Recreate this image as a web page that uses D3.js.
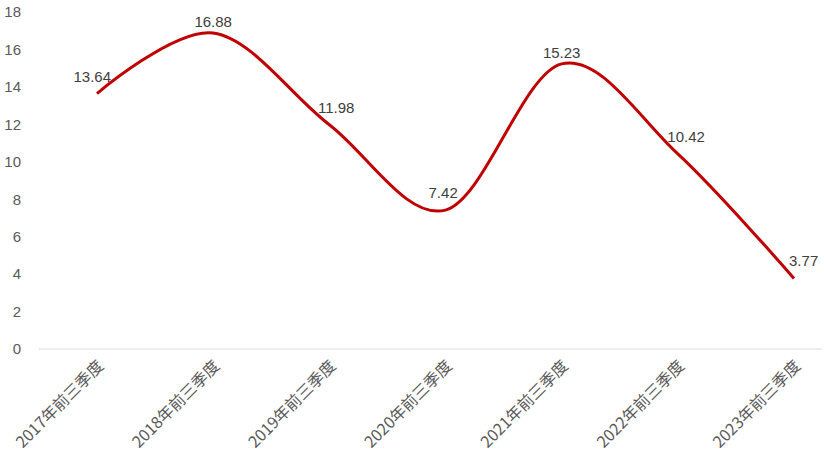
<!DOCTYPE html>
<html>
<head>
<meta charset="utf-8">
<script src="https://cdn.jsdelivr.net/npm/d3@7"></script>
<style>
  html, body { margin: 0; padding: 0; background: #ffffff; }
  svg { display: block; }
</style>
</head>
<body>
<svg id="chart" width="824" height="460"></svg>
<script>
const categories = ["2017年前三季度", "2018年前三季度", "2019年前三季度", "2020年前三季度", "2021年前三季度", "2022年前三季度", "2023年前三季度"];
const values = [13.64, 16.88, 11.98, 7.42, 15.23, 10.42, 3.77];
const yTicks = [0, 2, 4, 6, 8, 10, 12, 14, 16, 18];

const svg = d3.select("#chart");

const x = d3.scalePoint().domain(categories).range([97, 794]);
const y = d3.scaleLinear().domain([0, 18]).range([349, 12]);

const numFont = "'Liberation Sans', Arial, sans-serif";
const cjkFont = "'Noto Sans CJK SC', 'Noto Sans', sans-serif";

// baseline (0 line)
svg.append("line")
  .attr("x1", 39).attr("x2", 822)
  .attr("y1", y(0)).attr("y2", y(0))
  .attr("stroke", "#d9d9d9").attr("stroke-width", 1);

// Y axis tick labels
const yAxis = d3.axisLeft(y).tickValues(yTicks).tickSize(0).tickPadding(0).tickFormat(d3.format("d"));
const gy = svg.append("g").attr("transform", "translate(21,0)").call(yAxis);
gy.select(".domain").remove();
gy.selectAll("text")
  .attr("font-family", numFont).attr("font-size", 15).attr("fill", "#595959");

// X axis labels
const xAxis = d3.axisBottom(x).tickSize(0).tickPadding(0);
const gx = svg.append("g").attr("transform", "translate(0," + y(0) + ")").call(xAxis);
gx.select(".domain").remove();
gx.selectAll("text")
  .attr("font-family", cjkFont).attr("font-size", 16).attr("fill", "#595959")
  .attr("text-anchor", "end")
  .attr("dy", null).attr("y", null)
  .attr("transform", "translate(7,18) rotate(-45)");

// Line
const line = d3.line()
  .x((d, i) => x(categories[i]))
  .y(d => y(d))
  .curve(d3.curveCardinal.tension(0));

svg.append("path")
  .datum(values)
  .attr("fill", "none")
  .attr("stroke", "#C00000")
  .attr("stroke-width", 3)
  .attr("d", line);

// Data labels: placed above, nudged away from the line according to local slope
const px = (i) => x(categories[i]);
function slopeAt(i) {
  const a = Math.max(0, i - 1), b = Math.min(values.length - 1, i + 1);
  return (y(values[b]) - y(values[a])) / (px(b) - px(a));
}
function isPeak(i) {
  const prev = i > 0 ? values[i - 1] : -Infinity;
  const next = i < values.length - 1 ? values[i + 1] : -Infinity;
  return values[i] > prev && values[i] > next;
}

svg.append("g").selectAll("text")
  .data(values)
  .join("text")
  .attr("x", (d, i) => px(i) + 9 * slopeAt(i) * (isPeak(i) ? 0 : 1))
  .attr("y", (d, i) => y(d) - (isPeak(i) ? 6 : 12))
  .attr("text-anchor", "middle")
  .attr("font-family", numFont).attr("font-size", 15).attr("fill", "#404040")
  .text(d => d3.format(".2f")(d));
</script>
</body>
</html>
